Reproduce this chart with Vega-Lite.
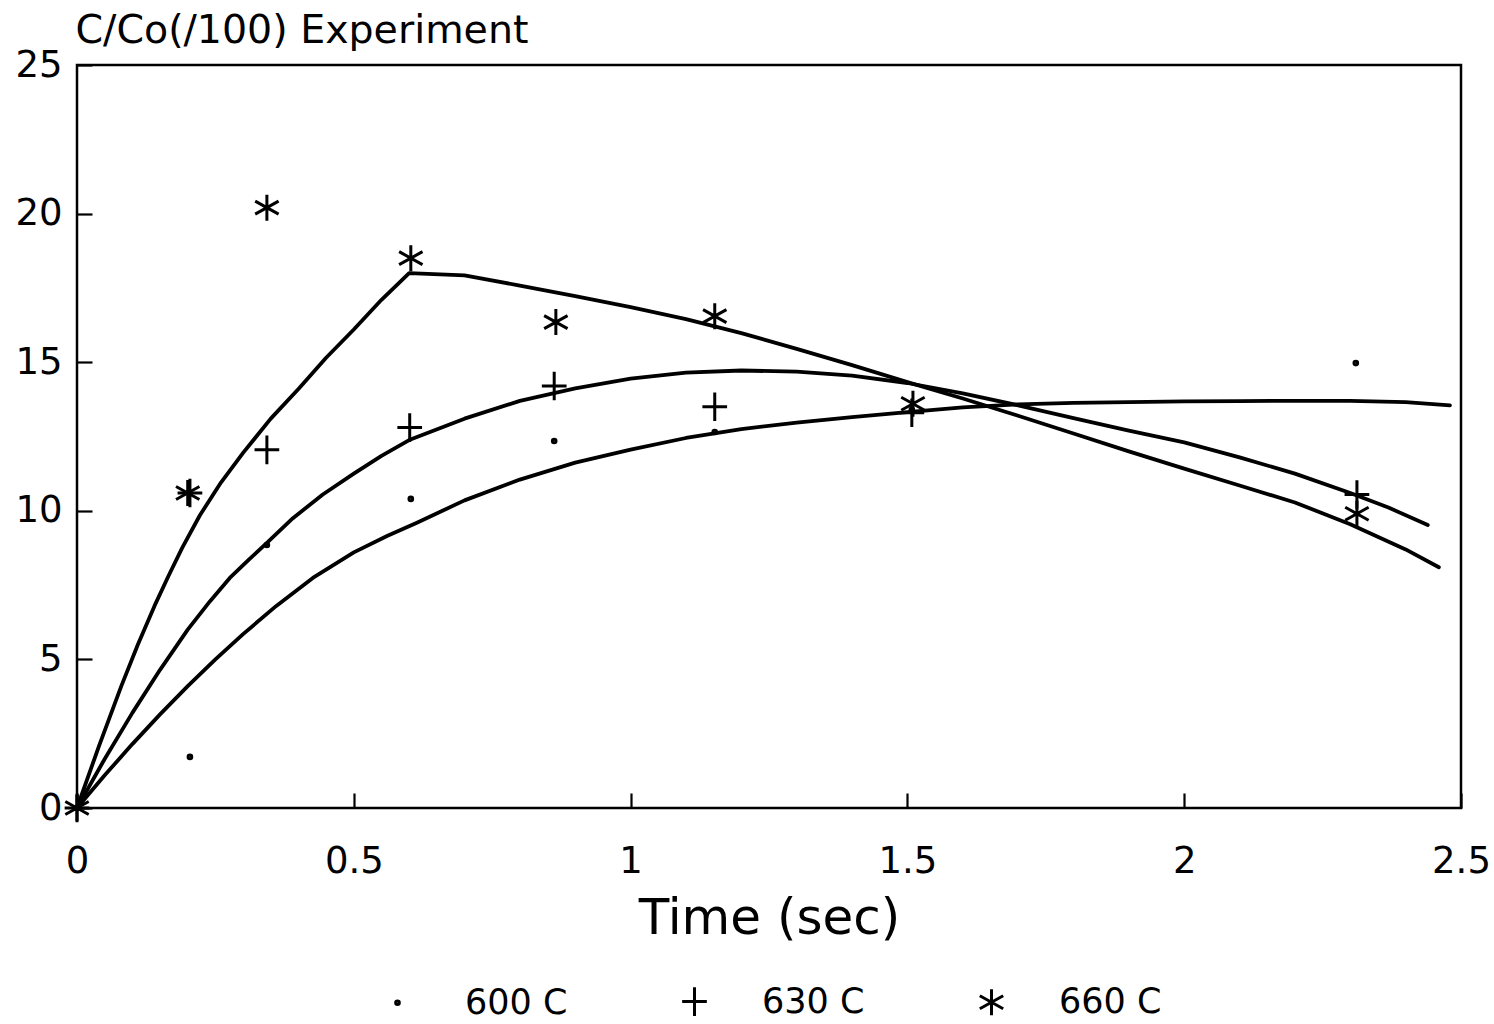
{
  "$schema": "https://vega.github.io/schema/vega-lite/v6.json",
  "autosize": {"type": "none"},
  "width": 1384,
  "height": 743,
  "padding": {"left": 77, "top": 65, "right": 33, "bottom": 216},
  "background": "white",
  "config": {
    "font": "DejaVu Sans",
    "view": {"stroke": "black", "strokeWidth": 2.5},
    "axis": {
      "domain": false,
      "grid": false,
      "ticks": true,
      "tickColor": "black",
      "tickWidth": 2.2,
      "tickSize": -15,
      "labelColor": "black",
      "titleColor": "black",
      "labelFont": "DejaVu Sans",
      "titleFont": "DejaVu Sans",
      "titleFontWeight": "normal"
    },
    "legend": {"labelFont": "DejaVu Sans", "labelColor": "black"}
  },
  "datasets": {
    "curves": [
      {"series": "600 C", "t": 0, "v": 0},
      {"series": "600 C", "t": 0.05, "v": 1.1},
      {"series": "600 C", "t": 0.1, "v": 2.15},
      {"series": "600 C", "t": 0.15, "v": 3.15},
      {"series": "600 C", "t": 0.2, "v": 4.1},
      {"series": "600 C", "t": 0.25, "v": 5.0},
      {"series": "600 C", "t": 0.3, "v": 5.85},
      {"series": "600 C", "t": 0.36, "v": 6.8},
      {"series": "600 C", "t": 0.426, "v": 7.74},
      {"series": "600 C", "t": 0.5, "v": 8.6},
      {"series": "600 C", "t": 0.56, "v": 9.15},
      {"series": "600 C", "t": 0.614, "v": 9.6},
      {"series": "600 C", "t": 0.7, "v": 10.35},
      {"series": "600 C", "t": 0.8, "v": 11.05},
      {"series": "600 C", "t": 0.9, "v": 11.62},
      {"series": "600 C", "t": 1.0, "v": 12.06},
      {"series": "600 C", "t": 1.1, "v": 12.45},
      {"series": "600 C", "t": 1.2, "v": 12.75},
      {"series": "600 C", "t": 1.3, "v": 12.97},
      {"series": "600 C", "t": 1.4, "v": 13.15},
      {"series": "600 C", "t": 1.5, "v": 13.32},
      {"series": "600 C", "t": 1.6, "v": 13.48},
      {"series": "600 C", "t": 1.7, "v": 13.58},
      {"series": "600 C", "t": 1.8, "v": 13.63},
      {"series": "600 C", "t": 1.9, "v": 13.66},
      {"series": "600 C", "t": 2.0, "v": 13.68},
      {"series": "600 C", "t": 2.1, "v": 13.69},
      {"series": "600 C", "t": 2.2, "v": 13.7},
      {"series": "600 C", "t": 2.3, "v": 13.7},
      {"series": "600 C", "t": 2.4, "v": 13.66},
      {"series": "600 C", "t": 2.48, "v": 13.55},
      {"series": "630 C", "t": 0, "v": 0},
      {"series": "630 C", "t": 0.05, "v": 1.65},
      {"series": "630 C", "t": 0.1, "v": 3.2},
      {"series": "630 C", "t": 0.15, "v": 4.65},
      {"series": "630 C", "t": 0.2, "v": 6.0},
      {"series": "630 C", "t": 0.24, "v": 6.95},
      {"series": "630 C", "t": 0.276, "v": 7.74},
      {"series": "630 C", "t": 0.31, "v": 8.35},
      {"series": "630 C", "t": 0.343, "v": 8.92},
      {"series": "630 C", "t": 0.39, "v": 9.75},
      {"series": "630 C", "t": 0.444, "v": 10.55},
      {"series": "630 C", "t": 0.5, "v": 11.25},
      {"series": "630 C", "t": 0.55, "v": 11.85},
      {"series": "630 C", "t": 0.6, "v": 12.38},
      {"series": "630 C", "t": 0.7, "v": 13.1},
      {"series": "630 C", "t": 0.8, "v": 13.7},
      {"series": "630 C", "t": 0.9, "v": 14.12},
      {"series": "630 C", "t": 1.0, "v": 14.45},
      {"series": "630 C", "t": 1.1, "v": 14.65},
      {"series": "630 C", "t": 1.2, "v": 14.72},
      {"series": "630 C", "t": 1.3, "v": 14.68},
      {"series": "630 C", "t": 1.4, "v": 14.55},
      {"series": "630 C", "t": 1.5, "v": 14.3},
      {"series": "630 C", "t": 1.6, "v": 13.95},
      {"series": "630 C", "t": 1.7, "v": 13.55},
      {"series": "630 C", "t": 1.8, "v": 13.12},
      {"series": "630 C", "t": 1.9, "v": 12.7},
      {"series": "630 C", "t": 2.0, "v": 12.3},
      {"series": "630 C", "t": 2.1, "v": 11.8},
      {"series": "630 C", "t": 2.2, "v": 11.25},
      {"series": "630 C", "t": 2.3, "v": 10.6},
      {"series": "630 C", "t": 2.37, "v": 10.1},
      {"series": "630 C", "t": 2.44, "v": 9.52},
      {"series": "660 C", "t": 0, "v": 0},
      {"series": "660 C", "t": 0.04, "v": 2.1},
      {"series": "660 C", "t": 0.08, "v": 4.1},
      {"series": "660 C", "t": 0.11, "v": 5.5},
      {"series": "660 C", "t": 0.14, "v": 6.8},
      {"series": "660 C", "t": 0.165, "v": 7.8},
      {"series": "660 C", "t": 0.19, "v": 8.75},
      {"series": "660 C", "t": 0.222, "v": 9.85},
      {"series": "660 C", "t": 0.26, "v": 10.95},
      {"series": "660 C", "t": 0.3, "v": 11.95},
      {"series": "660 C", "t": 0.35, "v": 13.1},
      {"series": "660 C", "t": 0.4, "v": 14.1},
      {"series": "660 C", "t": 0.45, "v": 15.15},
      {"series": "660 C", "t": 0.5, "v": 16.1},
      {"series": "660 C", "t": 0.55, "v": 17.1},
      {"series": "660 C", "t": 0.6, "v": 18.0},
      {"series": "660 C", "t": 0.7, "v": 17.92},
      {"series": "660 C", "t": 0.8, "v": 17.58},
      {"series": "660 C", "t": 0.9, "v": 17.22},
      {"series": "660 C", "t": 1.0, "v": 16.85},
      {"series": "660 C", "t": 1.1, "v": 16.45},
      {"series": "660 C", "t": 1.2, "v": 15.98},
      {"series": "660 C", "t": 1.3, "v": 15.45},
      {"series": "660 C", "t": 1.4, "v": 14.9},
      {"series": "660 C", "t": 1.5, "v": 14.33},
      {"series": "660 C", "t": 1.6, "v": 13.78},
      {"series": "660 C", "t": 1.7, "v": 13.2},
      {"series": "660 C", "t": 1.8, "v": 12.6},
      {"series": "660 C", "t": 1.9, "v": 12.0},
      {"series": "660 C", "t": 2.0, "v": 11.42},
      {"series": "660 C", "t": 2.1, "v": 10.85},
      {"series": "660 C", "t": 2.2, "v": 10.28},
      {"series": "660 C", "t": 2.3, "v": 9.55},
      {"series": "660 C", "t": 2.4, "v": 8.7},
      {"series": "660 C", "t": 2.46, "v": 8.1}
    ],
    "observed": [
      {"series": "600 C", "t": 0, "v": 0},
      {"series": "600 C", "t": 0.204, "v": 1.72},
      {"series": "600 C", "t": 0.343, "v": 8.85},
      {"series": "600 C", "t": 0.603, "v": 10.4},
      {"series": "600 C", "t": 0.862, "v": 12.35},
      {"series": "600 C", "t": 1.152, "v": 12.65},
      {"series": "600 C", "t": 1.508, "v": 13.4},
      {"series": "600 C", "t": 2.31, "v": 14.97},
      {"series": "630 C", "t": 0, "v": 0},
      {"series": "630 C", "t": 0.204, "v": 10.6},
      {"series": "630 C", "t": 0.343, "v": 12.05},
      {"series": "630 C", "t": 0.601, "v": 12.8},
      {"series": "630 C", "t": 0.862, "v": 14.2},
      {"series": "630 C", "t": 1.152, "v": 13.5},
      {"series": "630 C", "t": 1.508, "v": 13.3},
      {"series": "630 C", "t": 2.312, "v": 10.55},
      {"series": "660 C", "t": 0, "v": 0},
      {"series": "660 C", "t": 0.2, "v": 10.6},
      {"series": "660 C", "t": 0.343, "v": 20.2},
      {"series": "660 C", "t": 0.603, "v": 18.5},
      {"series": "660 C", "t": 0.865, "v": 16.35},
      {"series": "660 C", "t": 1.152, "v": 16.55},
      {"series": "660 C", "t": 1.51, "v": 13.6},
      {"series": "660 C", "t": 2.312, "v": 9.9}
    ]
  },
  "layer": [
    {
      "data": {"name": "curves"},
      "mark": {"type": "line", "color": "black", "strokeWidth": 3.8, "strokeJoin": "round", "strokeCap": "round"},
      "encoding": {
        "x": {
          "field": "t", "type": "quantitative",
          "scale": {"domain": [0, 2.5], "nice": false, "zero": false},
          "axis": {
            "values": [0, 0.5, 1, 1.5, 2, 2.5],
            "format": "~g",
            "labelFontSize": 37,
            "labelPadding": 50,
            "labelFlush": false,
            "title": "Time (sec)",
            "titleFontSize": 50,
            "titlePadding": 14
          }
        },
        "y": {
          "field": "v", "type": "quantitative",
          "scale": {"domain": [0, 25], "nice": false},
          "axis": {
            "values": [0, 5, 10, 15, 20, 25],
            "labelFontSize": 37,
            "labelPadding": 30,
            "labelFlush": false,
            "title": "C/Co(/100) Experiment",
            "titleFontSize": 39.5,
            "titleAngle": 0,
            "titleAlign": "left",
            "titleBaseline": "alphabetic",
            "titleX": -2,
            "titleY": -23
          }
        },
        "detail": {"field": "series"}
      }
    },
    {
      "data": {"name": "observed"},
      "mark": {"type": "point", "filled": false, "color": "black", "strokeWidth": 3, "opacity": 1},
      "encoding": {
        "x": {"field": "t", "type": "quantitative"},
        "y": {"field": "v", "type": "quantitative"},
        "shape": {
          "field": "series", "type": "nominal",
          "scale": {
            "domain": ["600 C", "630 C", "660 C"],
            "range": [
              "M-0.14,0A0.14,0.14 0 1,1 0.14,0A0.14,0.14 0 1,1 -0.14,0Z",
              "M-0.95,0L0.95,0M0,-1.1L0,1.1",
              "M0,-1L0,1M-0.9,-0.5L0.9,0.5M-0.9,0.5L0.9,-0.5"
            ]
          },
          "legend": {
            "title": null,
            "orient": "none",
            "direction": "horizontal",
            "legendX": 303,
            "legendY": 919,
            "symbolSize": 676,
            "symbolStrokeColor": "black",
            "symbolStrokeWidth": 3,
            "symbolFillColor": "transparent",
            "labelFontSize": 35,
            "labelOffset": 50,
            "columnPadding": 108,
            "labelLimit": 300
          }
        },
        "size": {"value": 676}
      }
    }
  ]
}
